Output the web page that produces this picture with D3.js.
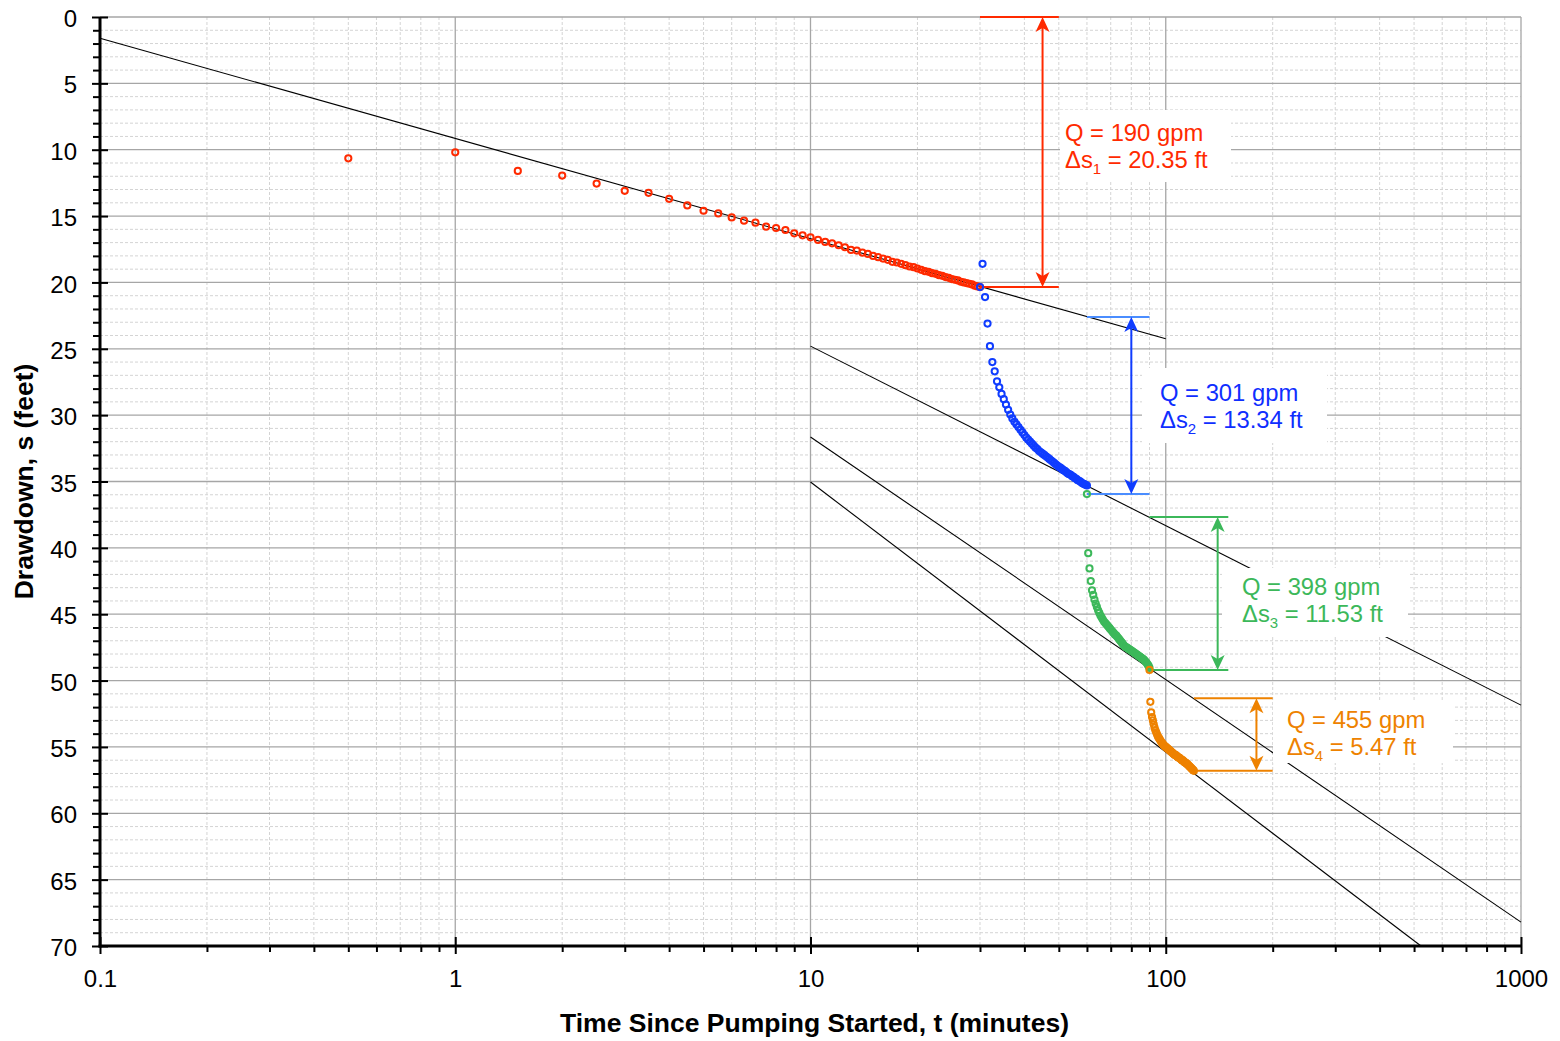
<!DOCTYPE html>
<html>
<head>
<meta charset="utf-8">
<script src="https://cdn.jsdelivr.net/npm/d3@7"></script>
<style>
  body { margin: 0; background: #fff; }
  svg { display: block; font-family: "Liberation Sans", Arial, sans-serif; }
</style>
</head>
<body>
<svg id="chart" width="1560" height="1041"></svg>
<script>
// Drawdown readings, one every half minute per pumping step
const stepStart = [0.5, 30, 60, 90];   // first reading time of each step (min)
const stepDt = 0.5;
const stepColor = ["#ff2a00", "#0f3cff", "#3cb85a", "#ee8200"];

const sStep1 = [10.65, 10.2, 11.6, 11.95, 12.55, 13.1, 13.25, 13.7, 14.2, 14.6,
  14.8, 15.1, 15.35, 15.5, 15.8, 15.9, 16.05, 16.3, 16.45, 16.6,
  16.8, 16.95, 17.05, 17.2, 17.35, 17.55, 17.6, 17.75, 17.85, 18.0,
  18.1, 18.2, 18.3, 18.45, 18.5, 18.6, 18.7, 18.8, 18.85, 18.95,
  19.05, 19.15, 19.2, 19.3, 19.35, 19.45, 19.5, 19.6, 19.65, 19.75,
  19.8, 19.85, 19.95, 20.0, 20.05, 20.1, 20.15, 20.25, 20.3, 20.35];

const sStep2 = [20.35, 18.6, 21.1, 23.1, 24.8, 26.0, 26.7, 27.45, 27.9, 28.4,
  28.8, 29.2, 29.6, 29.95, 30.25, 30.5, 30.7, 30.9, 31.1, 31.3,
  31.5, 31.7, 31.85, 32.0, 32.15, 32.3, 32.45, 32.55, 32.7, 32.8,
  32.9, 33.0, 33.1, 33.2, 33.3, 33.4, 33.5, 33.6, 33.7, 33.8,
  33.9, 33.95, 34.05, 34.15, 34.2, 34.3, 34.4, 34.45, 34.5, 34.6,
  34.65, 34.75, 34.8, 34.9, 34.95, 35.0, 35.1, 35.15, 35.2, 35.25, 35.3];

const sStep3 = [35.95, 40.4, 41.55, 42.5, 43.2, 43.55, 43.9, 44.2, 44.45, 44.7,
  44.9, 45.1, 45.25, 45.4, 45.55, 45.65, 45.75, 45.85, 45.95, 46.05,
  46.15, 46.25, 46.35, 46.45, 46.55, 46.6, 46.7, 46.8, 46.9, 47.0,
  47.1, 47.2, 47.3, 47.4, 47.45, 47.5, 47.55, 47.6, 47.65, 47.7,
  47.75, 47.8, 47.85, 47.9, 47.95, 48.0, 48.05, 48.1, 48.15, 48.2,
  48.25, 48.3, 48.35, 48.4, 48.45, 48.55, 48.6, 48.7, 48.8, 48.9, 49.05];

const sStep4 = [49.2, 51.6, 52.4, 52.75, 53.0, 53.3, 53.55, 53.75, 53.9, 54.05,
  54.2, 54.3, 54.4, 54.5, 54.6, 54.7, 54.75, 54.85, 54.9, 54.95,
  55.0, 55.05, 55.1, 55.15, 55.2, 55.25, 55.3, 55.35, 55.4, 55.45,
  55.5, 55.55, 55.6, 55.6, 55.65, 55.7, 55.75, 55.8, 55.8, 55.85,
  55.9, 55.95, 56.0, 56.0, 56.05, 56.1, 56.15, 56.2, 56.2, 56.25,
  56.3, 56.35, 56.4, 56.45, 56.5, 56.55, 56.6, 56.65, 56.7, 56.75, 56.8];

// straight-line (Cooper-Jacob) fits: end points [t, s]
const fitStart = [[0.1, 1.6], [10, 24.8], [10, 31.65], [10, 35.04]];
const fitEnd = [[100, 24.25], [1000, 51.85], [1000, 68.2], [523, 70]];

// Δs annotations
const annT = [45, 80, 140, 180];
const annTop = [0, 22.61, 37.68, 51.33];
const annBottom = [20.35, 35.95, 49.21, 56.8];
const annFrom = [30, 60, 90, 120];
const annTo = [50, 90, 150, 200];
const annQ = ["190", "301", "398", "455"];
const annDs = ["20.35", "13.34", "11.53", "5.47"];
const annSub = ["1", "2", "3", "4"];
const annBar = ["#ff2a00", "#4a8dff", "#3cb85a", "#ee8200"];
const annText = ["#ff2a00", "#0f2eff", "#3cb85a", "#ee8200"];

const xTicks = [0.1, 1, 10, 100, 1000];
const yTicks = [0, 5, 10, 15, 20, 25, 30, 35, 40, 45, 50, 55, 60, 65, 70];

// label placement (pixels): text x, first baseline, box x0, y0, x1, y1
const labelPos = [
  [1065, 141, 1060, 110, 1231, 182],
  [1160, 401, 1142, 368, 1327, 443],
  [1242, 595, 1222, 568, 1408, 637],
  [1287, 728, 1273, 700, 1453, 763]
];

const pL = 100, pR = 1521, pT = 17, pB = 946;
const svg = d3.select("#chart");

const x = d3.scaleLog().domain([0.1, 1000]).range([pL, pR]);
const y = d3.scaleLinear().domain([0, 70]).range([pT, pB]);

// minor values
const xMinor = [];
[0.1, 1, 10, 100].forEach(d => { for (let k = 2; k <= 9; k++) xMinor.push(+(d * k).toPrecision(3)); });
const yMinor = d3.range(0, 71, 1).filter(v => v % 5 !== 0);

// grid
const grid = svg.append("g");
grid.selectAll(".xm").data(xMinor).enter().append("line")
  .attr("x1", d => x(d)).attr("x2", d => x(d)).attr("y1", pT).attr("y2", pB)
  .attr("stroke", "#d4d4d4").attr("stroke-dasharray", "3,2");
grid.selectAll(".ym").data(yMinor).enter().append("line")
  .attr("x1", pL).attr("x2", pR).attr("y1", d => y(d)).attr("y2", d => y(d))
  .attr("stroke", "#d4d4d4").attr("stroke-dasharray", "3,2");
grid.selectAll(".xM").data(xTicks).enter().append("line")
  .attr("x1", d => x(d)).attr("x2", d => x(d)).attr("y1", pT).attr("y2", pB)
  .attr("stroke", "#a6a6a6").attr("stroke-width", 1.3);
grid.selectAll(".yM").data(yTicks).enter().append("line")
  .attr("x1", pL).attr("x2", pR).attr("y1", d => y(d)).attr("y2", d => y(d))
  .attr("stroke", "#a6a6a6").attr("stroke-width", 1.3);

// fitted lines
svg.append("g").selectAll("line").data(fitStart).enter().append("line")
  .attr("x1", d => x(d[0])).attr("y1", d => y(d[1]))
  .attr("x2", (d, i) => x(fitEnd[i][0])).attr("y2", (d, i) => y(fitEnd[i][1]))
  .attr("stroke", "#000").attr("stroke-width", 1.1);

// label boxes hide the grid and lines behind the text
const labels = svg.append("g");
labels.selectAll("rect").data(labelPos).enter().append("rect")
  .attr("x", d => d[2]).attr("y", d => d[3])
  .attr("width", d => d[4] - d[2]).attr("height", d => d[5] - d[3])
  .attr("fill", "#fff");

// annotation bars and arrows
const ann = svg.append("g");
annT.forEach((t, i) => {
  const g = ann.append("g").attr("stroke", annBar[i]).attr("stroke-width", 2);
  [annTop[i], annBottom[i]].forEach(s => {
    g.append("line").attr("x1", x(annFrom[i])).attr("x2", x(annTo[i]))
      .attr("y1", y(s)).attr("y2", y(s));
  });
  const ax = x(t), y0 = y(annTop[i]), y1 = y(annBottom[i]);
  const col = i === 1 ? "#0f3cff" : annBar[i];
  ann.append("line").attr("x1", ax).attr("x2", ax).attr("y1", y0 + 8).attr("y2", y1 - 8)
    .attr("stroke", col).attr("stroke-width", 2);
  ann.append("path")
    .attr("d", `M${ax},${y0} L${ax - 7},${y0 + 15} L${ax},${y0 + 11} L${ax + 7},${y0 + 15} Z`)
    .attr("fill", col);
  ann.append("path")
    .attr("d", `M${ax},${y1} L${ax - 7},${y1 - 15} L${ax},${y1 - 11} L${ax + 7},${y1 - 15} Z`)
    .attr("fill", col);
});

// label text
labelPos.forEach((p, i) => {
  const t = labels.append("text").attr("fill", annText[i]).style("font-size", "23.8px");
  t.append("tspan").attr("x", p[0]).attr("y", p[1]).text(`Q = ${annQ[i]} gpm`);
  const t2 = labels.append("text").attr("fill", annText[i]).style("font-size", "23.8px")
    .attr("x", p[0]).attr("y", p[1] + 26.5);
  t2.append("tspan").text("Δs");
  t2.append("tspan").attr("dy", 6).style("font-size", "15px").text(annSub[i]);
  t2.append("tspan").attr("dy", -6).text(` = ${annDs[i]} ft`);
});

// data points
const steps = [sStep1, sStep2, sStep3, sStep4];
steps.forEach((vals, i) => {
  const pts = vals.map((s, k) => ({ t: stepStart[i] + k * stepDt, s }));
  svg.append("g").selectAll("circle").data(pts).enter().append("circle")
    .attr("cx", d => x(d.t)).attr("cy", d => y(d.s)).attr("r", 3.1)
    .attr("fill", "none").attr("stroke", stepColor[i]).attr("stroke-width", 2);
});

// axes
const fmtX = d => d === 0.1 ? "0.1" : d3.format("d")(d);
const xAxis = svg.append("g").attr("transform", `translate(0,${pB})`)
  .call(d3.axisBottom(x).tickValues(xTicks).tickFormat(fmtX).tickSizeInner(8).tickSizeOuter(0).tickPadding(16));
xAxis.selectAll(".tick line").attr("y1", -9).attr("stroke-width", 2);
xAxis.select(".domain").remove();
xAxis.selectAll("text").style("font-size", "24px").attr("fill", "#000");
const xAxisMinor = svg.append("g").attr("transform", `translate(0,${pB})`)
  .call(d3.axisBottom(x).tickValues(xMinor).tickFormat("").tickSizeInner(6).tickSizeOuter(0));
xAxisMinor.select(".domain").remove();
xAxisMinor.selectAll(".tick line").attr("stroke-width", 2);

const yAxis = svg.append("g").attr("transform", `translate(${pL},0)`)
  .call(d3.axisLeft(y).tickValues(yTicks).tickSizeInner(8).tickSizeOuter(0).tickPadding(15));
yAxis.selectAll(".tick line").attr("x1", 8).attr("stroke-width", 2);
yAxis.select(".domain").remove();
yAxis.selectAll("text").style("font-size", "24px").attr("fill", "#000").attr("dy", "0.4em");
const yAxisMinor = svg.append("g").attr("transform", `translate(${pL},0)`)
  .call(d3.axisLeft(y).tickValues(yMinor).tickFormat("").tickSizeInner(7).tickSizeOuter(0));
yAxisMinor.select(".domain").remove();
yAxisMinor.selectAll(".tick line").attr("stroke-width", 2);

svg.append("line").attr("x1", pL).attr("x2", pL).attr("y1", pT).attr("y2", pB + 1.5)
  .attr("stroke", "#000").attr("stroke-width", 3);
svg.append("line").attr("x1", pL - 1.5).attr("x2", pR).attr("y1", pB).attr("y2", pB)
  .attr("stroke", "#000").attr("stroke-width", 3);

// titles
svg.append("text").attr("x", (pL + pR) / 2 + 4).attr("y", 1032)
  .attr("text-anchor", "middle").style("font-size", "26.5px").style("font-weight", "bold")
  .text("Time Since Pumping Started, t (minutes)");
svg.append("text").attr("transform", `translate(33,${(pT + pB) / 2}) rotate(-90)`)
  .attr("text-anchor", "middle").style("font-size", "26.5px").style("font-weight", "bold")
  .text("Drawdown, s (feet)");
</script>
</body>
</html>
